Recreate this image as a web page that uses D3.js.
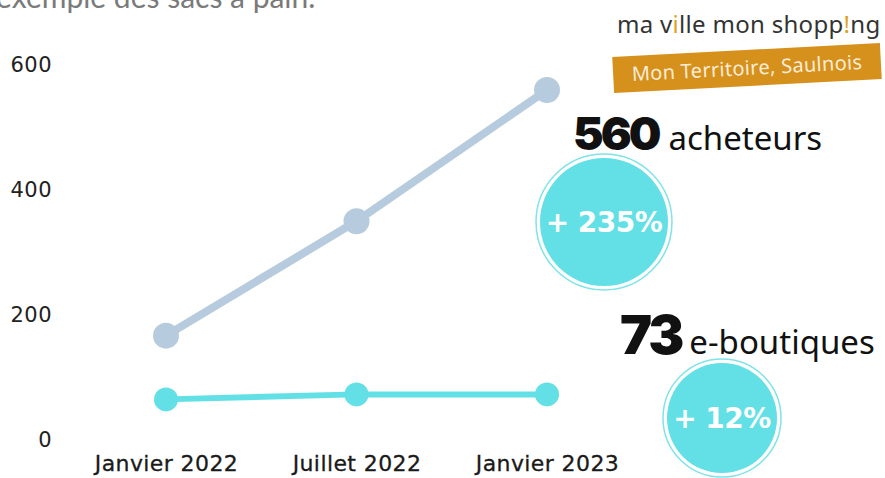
<!DOCTYPE html>
<meta charset="utf-8">
<script src="https://d3js.org/d3.v7.min.js"></script>
<style>
  body { margin: 0; background: #fff; }
  svg { display: block; }
</style>
<div id="my_dataviz"></div>
<script>

// data
var periods = ["Janvier 2022", "Juillet 2022", "Janvier 2023"];
var acheteurs = [167, 350, 560];
var boutiques = [65, 73, 73];
var yTicks = [0, 200, 400, 600];

var width = 885, height = 478;

var svg = d3.select("#my_dataviz")
  .append("svg")
    .attr("width", width)
    .attr("height", height);

// scales
var x = d3.scalePoint()
  .domain(periods)
  .range([166, 547]);

var y = d3.scaleLinear()
  .domain([0, 600])
  .range([440, 65]);

// clipped caption at the top
svg.append("text")
  .attr("x", -4)
  .attr("y", 8)
  .attr("font-family", "Lato, sans-serif")
  .attr("font-size", 30)
  .attr("fill", "#7a7a7a")
  .text("exemple des sacs à pain.");

// Y axis, labels only
var yAxis = svg.append("g")
  .attr("transform", "translate(52,0)")
  .call(d3.axisLeft(y).tickValues(yTicks).tickSize(0).tickPadding(0));
yAxis.select(".domain").remove();
yAxis.selectAll("text")
  .attr("font-family", "'DejaVu Sans', sans-serif")
  .attr("font-size", 21)
  .attr("letter-spacing", 0.5)
  .attr("fill", "#222");

// X axis, labels only
var xAxis = svg.append("g")
  .attr("transform", "translate(0,455)")
  .call(d3.axisBottom(x).tickSize(0).tickPadding(0));
xAxis.select(".domain").remove();
xAxis.selectAll("text")
  .attr("font-family", "'DejaVu Sans', sans-serif")
  .attr("font-size", 22)
  .attr("letter-spacing", 0.4)
  .attr("stroke", "#1a1a1a")
  .attr("stroke-width", 0.3)
  .attr("fill", "#1a1a1a");

// lines + points
function drawSeries(values, color, lw, r) {
  svg.append("path")
    .datum(values)
    .attr("fill", "none")
    .attr("stroke", color)
    .attr("stroke-width", lw)
    .attr("d", d3.line()
      .x(function(d, i) { return x(periods[i]) })
      .y(function(d) { return y(d) }));
  svg.append("g")
    .selectAll("circle")
    .data(values)
    .enter()
    .append("circle")
      .attr("cx", function(d, i) { return x(periods[i]) })
      .attr("cy", function(d) { return y(d) })
      .attr("r", r)
      .attr("fill", color);
}
drawSeries(acheteurs, "#b6cbde", 8, 13);
drawSeries(boutiques, "#62e0e6", 6, 12);

// badges
function badge(cx, cy, r, label, fs) {
  svg.append("circle")
    .attr("cx", cx).attr("cy", cy).attr("r", r + 4)
    .attr("fill", "#fff")
    .attr("stroke", "#7fe3e8")
    .attr("stroke-width", 1.5);
  svg.append("circle")
    .attr("cx", cx).attr("cy", cy).attr("r", r)
    .attr("fill", "#62e0e6");
  svg.append("text")
    .attr("x", cx).attr("y", cy + fs * 0.36)
    .attr("text-anchor", "middle")
    .attr("font-family", "'DejaVu Sans', sans-serif")
    .attr("font-weight", "bold")
    .attr("font-size", fs)
    .attr("letter-spacing", -0.5)
    .attr("fill", "#fff")
    .text(label);
}
badge(604, 222, 64, "+ 235%", 28);
badge(722, 418, 55, "+ 12%", 28);

// big numbers with their labels
function bigLabel(xn, yb, num, nfs, word, wfs, gap) {
  var t = svg.append("text")
    .attr("x", xn).attr("y", yb)
    .attr("font-family", "Inter, 'Open Sans', sans-serif")
    .attr("fill", "#111");
  t.append("tspan")
    .attr("font-size", nfs)
    .attr("font-weight", 900)
    .attr("letter-spacing", -3)
    .text(num);
  t.append("tspan")
    .attr("dx", gap)
    .attr("font-size", wfs)
    .attr("font-family", "'Noto Sans', sans-serif")
    .attr("font-weight", 400)
    .attr("letter-spacing", 0)
    .text(word);
}
bigLabel(573, 150, "560", 46, "acheteurs", 33, 10);
bigLabel(620, 354, "73", 54, "e-boutiques", 33, 8);

// logo
var logo = svg.append("text")
  .attr("x", 617).attr("y", 33)
  .attr("font-family", "'Noto Sans', sans-serif")
  .attr("font-size", 24)
  .attr("letter-spacing", 0.3)
  .attr("fill", "#333");
logo.append("tspan").text("ma v");
logo.append("tspan").attr("fill", "#e0a020").text("i");
logo.append("tspan").text("lle mon shopp");
logo.append("tspan").attr("fill", "#e0a020").text("!");
logo.append("tspan").text("ng");

var banner = svg.append("g")
  .attr("transform", "translate(747,68) rotate(-3)");
banner.append("rect")
  .attr("x", -134).attr("y", -18)
  .attr("width", 268).attr("height", 36)
  .attr("fill", "#d6901c");
banner.append("text")
  .attr("y", 7)
  .attr("text-anchor", "middle")
  .attr("font-family", "'Noto Sans', sans-serif")
  .attr("font-size", 20)
  .attr("letter-spacing", 0.3)
  .attr("fill", "#fcecd6")
  .text("Mon Territoire, Saulnois");

</script>
